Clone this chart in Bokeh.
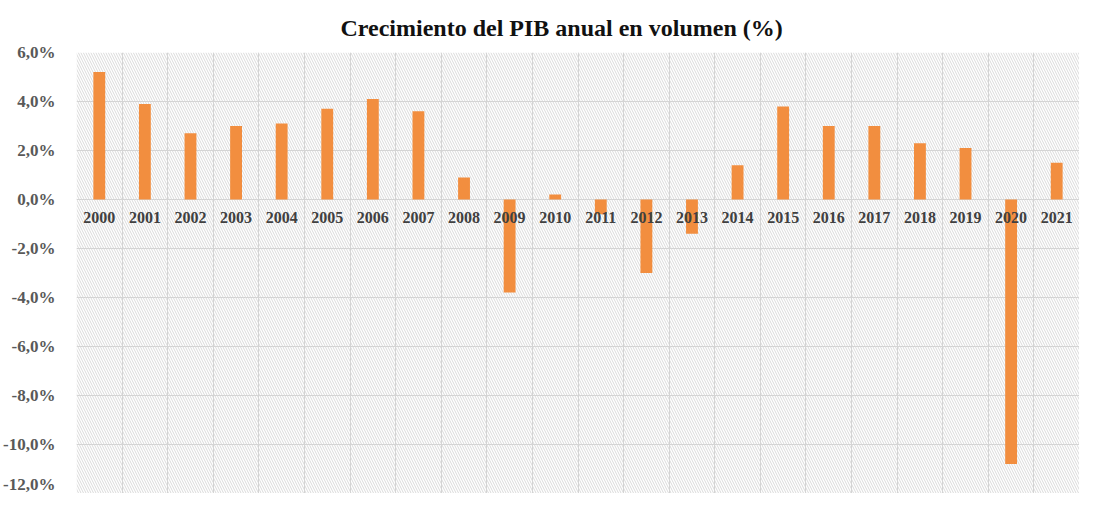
from bokeh.plotting import figure
from bokeh.models import BoxAnnotation, FixedTicker, Range1d
from bokeh.core.properties import value
from bokeh.embed import file_html
from bokeh.resources import INLINE

years = ["2000", "2001", "2002", "2003", "2004", "2005", "2006", "2007", "2008", "2009", "2010",
         "2011", "2012", "2013", "2014", "2015", "2016", "2017", "2018", "2019", "2020", "2021"]
growth = [5.2, 3.9, 2.7, 3.0, 3.1, 3.7, 4.1, 3.6, 0.9, -3.8, 0.2,
          -0.6, -3.0, -1.4, 1.4, 3.8, 3.0, 3.0, 2.3, 2.1, -10.8, 1.5]
y_ticks = [-12, -10, -8, -6, -4, -2, 0, 2, 4, 6]
y_labels = {t: ("%.1f" % t).replace(".", ",") + "%" for t in y_ticks}

SERIF = "Liberation Serif"
n = len(years)
xs = list(range(n))

p = figure(width=1079, height=493, output_backend="svg", toolbar_location=None,
           x_range=Range1d(-0.5, n - 0.5), y_range=Range1d(min(y_ticks), max(y_ticks)),
           title="Crecimiento del PIB anual en volumen (%)",
           min_border_left=71, min_border_right=0, min_border_top=0, min_border_bottom=0)
p.outline_line_color = None
p.background_fill_color = "white"

p.title.align = "left"
p.title.offset = 264
p.title.text_font = SERIF
p.title.text_font_size = "24px"
p.title.text_font_style = "bold"
p.title.text_color = "#111111"
p.title.standoff = 24

bg = BoxAnnotation(fill_color="white", fill_alpha=1.0, line_color=None,
                   hatch_pattern="\\", hatch_color="#dadada", hatch_scale=5,
                   hatch_weight=1, level="image")
p.add_layout(bg)

p.xaxis.visible = False
p.xgrid.ticker = FixedTicker(ticks=[i - 0.5 for i in range(n + 1)])
p.xgrid.grid_line_color = "#d4d4d4"
p.xgrid.level = "underlay"

p.yaxis.ticker = FixedTicker(ticks=y_ticks)
p.yaxis.major_label_overrides = y_labels
p.yaxis.axis_line_color = None
p.yaxis.major_tick_line_color = None
p.yaxis.minor_tick_line_color = None
p.yaxis.major_label_text_font = SERIF
p.yaxis.major_label_text_font_style = "bold"
p.yaxis.major_label_text_font_size = "17px"
p.yaxis.major_label_text_color = "#595959"
p.yaxis.major_label_standoff = 15
p.ygrid.ticker = FixedTicker(ticks=y_ticks)
p.ygrid.grid_line_color = "#d4d4d4"
p.ygrid.level = "underlay"

p.vbar(x=xs, top=growth, width=0.26, bottom=0, fill_color="#F28E3F", line_color=None)

p.text(x=xs, y=[0] * n, text=years, text_align="center", text_baseline="top",
       y_offset=12, text_font=value(SERIF), text_font_style="bold",
       text_font_size="16px", text_color="#404040")

open("out.html", "w").write(file_html(p, INLINE))
